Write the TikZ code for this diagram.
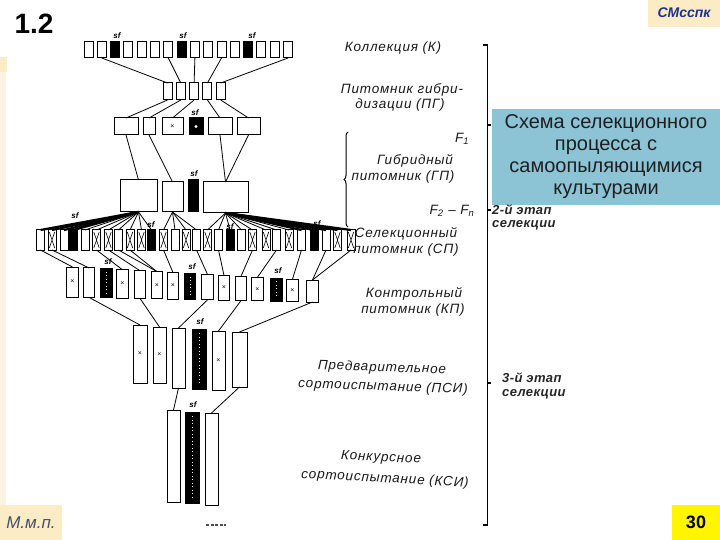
\documentclass[tikz,border=0pt]{standalone}
\usepackage{fontspec}
\setmainfont{Liberation Sans}
\newfontfamily\labfont[LetterSpace=6]{Liberation Sans}
\newfontfamily\stgfont[LetterSpace=3]{Liberation Sans}
\usetikzlibrary{decorations.pathreplacing,calc}
\definecolor{boxblue}{RGB}{140,196,214}
\definecolor{beige}{RGB}{252,236,198}
\definecolor{paleb}{RGB}{251,244,228}
\definecolor{ylw}{RGB}{255,245,0}
\definecolor{navy}{RGB}{30,50,140}
\definecolor{slate}{RGB}{70,80,100}
\begin{document}
\begin{tikzpicture}[x=1pt,y=-1pt,
  bx/.style={draw=black,line width=1pt,fill=white,inner sep=0pt,outer sep=0pt},
  bk/.style={draw=black,line width=1pt,fill=black,inner sep=0pt,outer sep=0pt},
  ln/.style={line width=0.8pt},
  thk/.style={line width=2.2pt},
  lab/.style={font=\labfont\fontsize{13.5}{13.5}\selectfont\itshape,inner sep=0pt,text=black!90},
  stg/.style={font=\stgfont\fontsize{13}{13}\selectfont\itshape\bfseries,inner sep=0pt,text=black!85,anchor=west},
  sfl/.style={font=\fontsize{8}{8}\selectfont\itshape\bfseries,inner sep=0pt},
  mk/.style={font=\fontsize{7}{7}\selectfont,inner sep=0pt},
  spk/.style={white,line width=1pt,dash pattern=on 1pt off 2.5pt},
]
\useasboundingbox (0,0) rectangle (720,540);
\fill[white] (0,0) rectangle (720,540);

% side decorations
\fill[paleb] (0,57) rectangle (6,505);
\fill[beige] (0,57) rectangle (7,72);
\fill[beige] (648,0) rectangle (720,27);
\node[font=\fontsize{14}{14}\selectfont\bfseries\itshape,text=navy] (sm) at (684,13) {СМсспк};
\fill[beige] (0,505) rectangle (62,540);
\node[font=\fontsize{17}{17}\selectfont\itshape,text=slate] (mmp) at (31,523) {М.м.п.};
\fill[ylw] (672,505) rectangle (720,540);
\node[font=\fontsize{18}{18}\selectfont\bfseries] (pg) at (696,522) {30};
\node[font=\fontsize{28}{28}\selectfont\bfseries] (num) at (34,24) {1.2};

% blue title box
\fill[boxblue] (492,109) rectangle (720,205);
\node[font=\fontsize{20}{22}\selectfont,align=center,text=black!88] (title) at (606,157)
  {Схема селекционного\\процесса с\\самоопыляющимися\\культурами};

% Row 1: collection
\foreach \s [count=\i] in {bx,bx,bk,bx,bx,bx,bx,bk,bx,bx,bx,bx,bk,bx,bx,bx}{
  \node[\s,minimum width=9pt,minimum height=16pt] (r1-\i) at ({88.5+13.3*(\i-1)},50) {};
}
\node[sfl] (s1a) at (117,36) {sf};
\node[sfl] (s1b) at (183,36) {sf};
\node[sfl] (s1c) at (252,36) {sf};

% Row 2: hybridisation nursery
\foreach \i in {1,...,5}{
  \node[bx,minimum width=9pt,minimum height=17pt] (r2-\i) at ({167.5+13.3*(\i-1)},91.5) {};
}
\foreach \a/\b in {2/1,7/2,9/3,11/4,16/5}
  \draw[ln] (r1-\a.south) -- (r2-\b.north);

% Row 3
\node[bx,minimum width=24pt,minimum height=17pt] (r3-1) at (126,126.5) {};
\node[bx,minimum width=12pt,minimum height=17pt] (r3-2) at (149,126.5) {};
\node[bx,minimum width=21pt,minimum height=17pt] (r3-3) at (172.5,126.5) {};
\node[bk,minimum width=14pt,minimum height=17pt] (r3-4) at (196,126.5) {};
\node[bx,minimum width=24pt,minimum height=17pt] (r3-5) at (220,126.5) {};
\node[bx,minimum width=23pt,minimum height=17pt] (r3-6) at (248.5,126.5) {};
\node[mk] at (r3-3) {×};
\fill[white] (r3-4.center) circle (1.6pt);
\node[sfl] (s3) at (195,113) {sf};
\foreach \a/\b in {1/1,2/2,3/3,4/5,5/6}
  \draw[ln] (r2-\a.south) -- (r3-\b.north);

% Row 4: hybrid nursery
\node[bx,minimum width=37pt,minimum height=32pt] (A) at (138.5,196) {};
\node[bx,minimum width=21pt,minimum height=30pt] (B) at (172.5,197) {};
\node[bk,minimum width=10pt,minimum height=32pt] (K) at (193,196) {};
\node[bx,minimum width=45pt,minimum height=31pt] (C) at (225.5,197.5) {};
\node[sfl] (s4) at (194,174) {sf};
\draw[ln] (r3-1.south) -- (A.north);
\draw[ln] (r3-2.south) -- (B.north);
\draw[ln] (r3-5.south) -- (C.north);
\draw[ln] (r3-6.south) -- (C.north);

% Row 5: selection nursery
\foreach \x/\s [count=\i from 0] in {40.5/bx,52/bx,64/bx,73.5/bk,85/bx,96.5/bx,108.5/bx,118.5/bx,130/bx,141.5/bx,151.5/bk,163.5/bx,175/bx,186/bx,196.5/bx,207.5/bx,218.5/bx,230/bk,241.5/bx,252.5/bx,266/bx,276.5/bx,289/bx,301.5/bx,314/bk,326/bx,337.5/bx,351/bx}{
  \node[\s,minimum width=8pt,minimum height=20pt] (r5-\i) at (\x,240) {};
}
\foreach \i in {1,5,6,8,9,11,13,15,19,20,22,26,27}{
  \draw[line width=0.6pt] ([shift={(1.3pt,-2pt)}]r5-\i.north west) -- ([shift={(-1.3pt,2pt)}]r5-\i.south east)
                          ([shift={(-1.3pt,-2pt)}]r5-\i.north east) -- ([shift={(1.3pt,2pt)}]r5-\i.south west);
}
\foreach \i in {0,...,3} \draw[thk] (A.south) -- (r5-\i.north);
\foreach \i in {4,...,10} \draw[ln] (A.south) -- (r5-\i.north);
\foreach \i in {11,...,14} \draw[ln] (B.south) -- (r5-\i.north);
\foreach \i in {15,...,22} \draw[ln] (C.south) -- (r5-\i.north);
\foreach \i in {23,...,27} \draw[thk] (C.south) -- (r5-\i.north);
\node[sfl] (s5a) at (75,216) {sf};
\node[sfl] (s5b) at (151,225) {sf};
\node[sfl] (s5c) at (230,227) {sf};
\node[sfl] (s5d) at (317,224) {sf};

% Row 6: control nursery
\foreach \x/\s [count=\j from 0] in {72.5/bx,89/bx,106.5/bk,122.5/bx,140/bx,157/bx,173/bx,190/bk,207.5/bx,224/bx,241/bx,257.5/bx,276.5/bk,292.5/bx,312.5/bx}{
  \node[\s,minimum width=11.5pt,minimum height={(30-8*\j/14)*1pt}] (r6-\j) at (\x,{282+9*\j/14}) {};
}
\foreach \j in {0,3,5,6,9,11,13} \node[mk] at (r6-\j) {×};
\foreach \j in {2,7,12} \draw[spk] ([yshift=-3pt]r6-\j.north) -- ([yshift=3pt]r6-\j.south);
\foreach \i/\j in {0/0,1/1,5/3,6/4,7/5,8/5,11/6,14/8,16/9,19/10,21/11,23/13,25/14,27/14}
  \draw[ln] (r5-\i.south) -- (r6-\j.north);
\node[sfl] (s6a) at (108,262) {sf};
\node[sfl] (s6b) at (192,267) {sf};
\node[sfl] (s6c) at (278,271) {sf};

% Row 7: preliminary trial
\node[bx,minimum width=14pt,minimum height=58pt] (r7-0) at (140,354) {};
\node[bx,minimum width=13pt,minimum height=56pt] (r7-1) at (159.5,355) {};
\node[bx,minimum width=13pt,minimum height=60pt] (r7-2) at (178.5,358) {};
\node[bk,minimum width=14pt,minimum height=60pt] (r7-3) at (199,359) {};
\node[bx,minimum width=13pt,minimum height=59pt] (r7-4) at (218.5,360.5) {};
\node[bx,minimum width=15pt,minimum height=55pt] (r7-5) at (239.5,359.5) {};
\foreach \j in {0,1,4} \node[mk] at (r7-\j) {×};
\draw[spk] ([yshift=-4pt]r7-3.north) -- ([yshift=4pt]r7-3.south);
\node[sfl] (s7) at (200,322) {sf};
\foreach \a/\b in {1/0,4/1,8/2,10/4,14/5}
  \draw[ln] (r6-\a.south) -- (r7-\b.north);

% Row 8: competitive trial
\node[bx,minimum width=13pt,minimum height=92pt] (r8-0) at (173.5,456) {};
\node[bk,minimum width=14pt,minimum height=91pt] (r8-1) at (192.5,457.5) {};
\node[bx,minimum width=13pt,minimum height=92pt] (r8-2) at (211.5,459) {};
\draw[spk] ([yshift=-4pt]r8-1.north) -- ([yshift=4pt]r8-1.south);
\node[sfl] (s8) at (193,405) {sf};
\draw[ln] (r7-2.south) -- (r8-0.north);
\draw[ln] (r7-5.south) -- (r8-2.north);
\draw[line width=1.2pt,black!70,dash pattern=on 3pt off 1.5pt] (206,525) -- (226,525);

% Labels
\node[lab] (tK) at (393,48) {Коллекция (К)};
\node[lab] (tPG1) at (402,90) {Питомник гибри-};
\node[lab] (tPG2) at (400,105) {дизации (ПГ)};
\node[lab] (tF1) at (462,139) {F\textsubscript{1}};
\node[lab] (tGP1) at (415,161) {Гибридный};
\node[lab] (tGP2) at (403,177) {питомник (ГП)};
\node[lab] (tF2) at (452,211) {F\textsubscript{2} – F\textsubscript{n}};
\node[stg] (tE2a) at (492,210) {2-й этап};
\node[stg] (tE2b) at (492,225) {селекции};
\node[lab] (tSP1) at (406,234) {Селекционный};
\node[lab] (tSP2) at (406,250) {питомник (СП)};
\node[lab] (tKP1) at (414,294) {Контрольный};
\node[lab] (tKP2) at (413,310) {питомник (КП)};
\node[lab,rotate=-2] (tP1) at (382,368) {Предварительное};
\node[lab,rotate=-2] (tP2) at (383,387) {сортоиспытание (ПСИ)};
\node[stg] (tE3a) at (502,378) {3-й этап};
\node[stg] (tE3b) at (502,394) {селекции};
\node[lab,rotate=-3] (tK1) at (381,458) {Конкурсное};
\node[lab,rotate=-3] (tK2) at (385,479) {сортоиспытание (КСИ)};

% brackets
\draw[line width=1.3pt] (483,45) -- (487.5,45) -- (487.5,525) -- (483,525);
\foreach \yy in {125,210,383} \draw[line width=1.2pt] (487.5,\yy) -- (491,\yy);
\draw[line width=1pt,decorate,decoration={brace,amplitude=4pt}] (348,227) -- (348,132);
\end{tikzpicture}
\end{document}
